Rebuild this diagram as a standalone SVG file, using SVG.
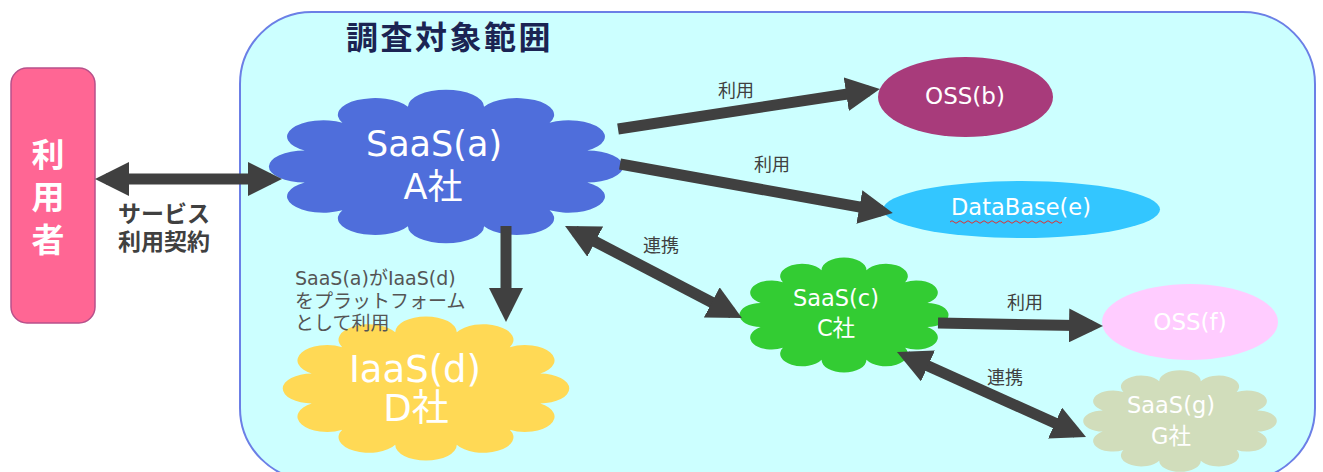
<svg xmlns="http://www.w3.org/2000/svg" width="1323" height="472" viewBox="0 0 1323 472">
<style>
.jp{font-family:"DejaVu Sans","Noto Sans CJK JP",sans-serif}
.lt{font-family:"DejaVu Sans","Noto Sans CJK JP",sans-serif;fill:#ffffff;text-anchor:middle}
.lbl{font-family:"DejaVu Sans","Noto Sans CJK JP",sans-serif;font-size:18px;fill:#404040;text-anchor:middle}
.arr{stroke:#404040;stroke-width:11;fill:none;marker-end:url(#ah)}
.bi{marker-start:url(#ah)}
</style>
<defs>
<marker id="ah" markerUnits="userSpaceOnUse" markerWidth="34" markerHeight="34" viewBox="0 0 34 34" refX="23" refY="17" orient="auto-start-reverse">
<path d="M0 0 L34 17 L0 34 Z" fill="#404040"/>
</marker>
<path id="cloud" d="M88.6,59.8 A1,1 0 0 1 78.3,76.9 A1,1 0 0 1 60.4,86.7 A1,1 0 0 1 39.6,86.7 A1,1 0 0 1 21.7,76.9 A1,1 0 0 1 11.4,59.8 A1,1 0 0 1 11.4,40.2 A1,1 0 0 1 21.7,23.1 A1,1 0 0 1 39.6,13.3 A1,1 0 0 1 60.4,13.3 A1,1 0 0 1 78.3,23.1 A1,1 0 0 1 88.6,40.2 A1,1 0 0 1 88.6,59.8 Z"/>
</defs>

<g id="scope">
<rect x="240" y="12" width="1075" height="468" rx="72" fill="#ccffff" stroke="#6b7fe6" stroke-width="2"/>
<text x="346" y="49" class="jp" font-size="32" font-weight="bold" letter-spacing="2.5" fill="#1b2453">調査対象範囲</text>
</g>

<g id="user">
<rect x="11" y="68" width="84" height="255" rx="16" fill="#ff6694" stroke="#b8508a" stroke-width="1.5"/>
<text class="jp" font-size="33" font-weight="bold" fill="#ffffff" text-anchor="middle">
<tspan x="48" y="167">利</tspan><tspan x="48" y="209">用</tspan><tspan x="48" y="252">者</tspan>
</text>
</g>

<g id="saas-a">
<use href="#cloud" transform="translate(263,85) scale(3.66,1.63)" fill="#4f6edb"/>
<text class="lt" font-size="35"><tspan x="434" y="156">SaaS(a)</tspan><tspan x="433" y="199">A社</tspan></text>
</g>

<g id="iaas-d">
<use href="#cloud" transform="translate(278,312) scale(2.96,1.53)" fill="#ffd955"/>
<text class="lt" font-size="37"><tspan x="415" y="382">IaaS(d)</tspan><tspan x="416" y="421">D社</tspan></text>
</g>

<g id="saas-c">
<use href="#cloud" transform="translate(736,254) scale(2.16,1.22)" fill="#33cc33"/>
<text class="lt" font-size="22.5"><tspan x="836" y="306">SaaS(c)</tspan><tspan x="836" y="336">C社</tspan></text>
</g>

<g id="saas-g">
<use href="#cloud" transform="translate(1080,367) scale(2.0,1.08)" fill="#d1ddbb"/>
<text class="lt" font-size="22.5"><tspan x="1171" y="413">SaaS(g)</tspan><tspan x="1171" y="444">G社</tspan></text>
</g>

<g id="oss-b">
<ellipse cx="965.5" cy="97" rx="87.5" ry="40" fill="#a83b7b"/>
<text class="lt" font-size="23" x="965" y="104">OSS(b)</text>
</g>

<g id="database-e">
<ellipse cx="1021.5" cy="209.5" rx="138.5" ry="28.5" fill="#33c6ff"/>
<text class="lt" font-size="22.5" x="1021" y="215">DataBase(e)</text>
<path d="M950 222 q2 -2.5 4 0 t4 0 t4 0 t4 0 t4 0 t4 0 t4 0 t4 0 t4 0 t4 0 t4 0 t4 0 t4 0 t4 0 t4 0 t4 0 t4 0 t4 0 t4 0 t4 0 t4 0 t4 0 t4 0 t4 0 t4 0 t4 0 t4 0 t4 0" fill="none" stroke="#e03030" stroke-width="1"/>
</g>

<g id="oss-f">
<ellipse cx="1190" cy="322" rx="88" ry="38" fill="#ffccff"/>
<text class="lt" font-size="23" x="1190" y="330">OSS(f)</text>
</g>

<g id="connectors">
<line class="arr bi" x1="106" y1="179" x2="271" y2="179"/>
<line class="arr" x1="618" y1="129" x2="869" y2="90.7"/>
<line class="arr" x1="620" y1="164" x2="882" y2="211"/>
<line class="arr" x1="506" y1="226" x2="506" y2="311"/>
<line class="arr bi" x1="574.8" y1="231" x2="732.2" y2="313"/>
<line class="arr" x1="938" y1="323" x2="1092" y2="325.8"/>
<line class="arr bi" x1="907" y1="356.5" x2="1076" y2="432.5"/>
<text class="jp" font-size="23" font-weight="bold" fill="#404040"><tspan x="118" y="222">サービス</tspan><tspan x="118" y="250">利用契約</tspan></text>
<text class="lbl" x="736" y="97">利用</text>
<text class="lbl" x="772" y="171">利用</text>
<text class="lbl" x="661" y="252">連携</text>
<text class="lbl" x="1025" y="309">利用</text>
<text class="lbl" x="1005" y="384">連携</text>
<text class="jp" font-size="19" fill="#555555"><tspan x="295" y="285">SaaS(a)がIaaS(d)</tspan><tspan x="295" y="307.5">をプラットフォーム</tspan><tspan x="295" y="330">として利用</tspan></text>
</g>
</svg>
